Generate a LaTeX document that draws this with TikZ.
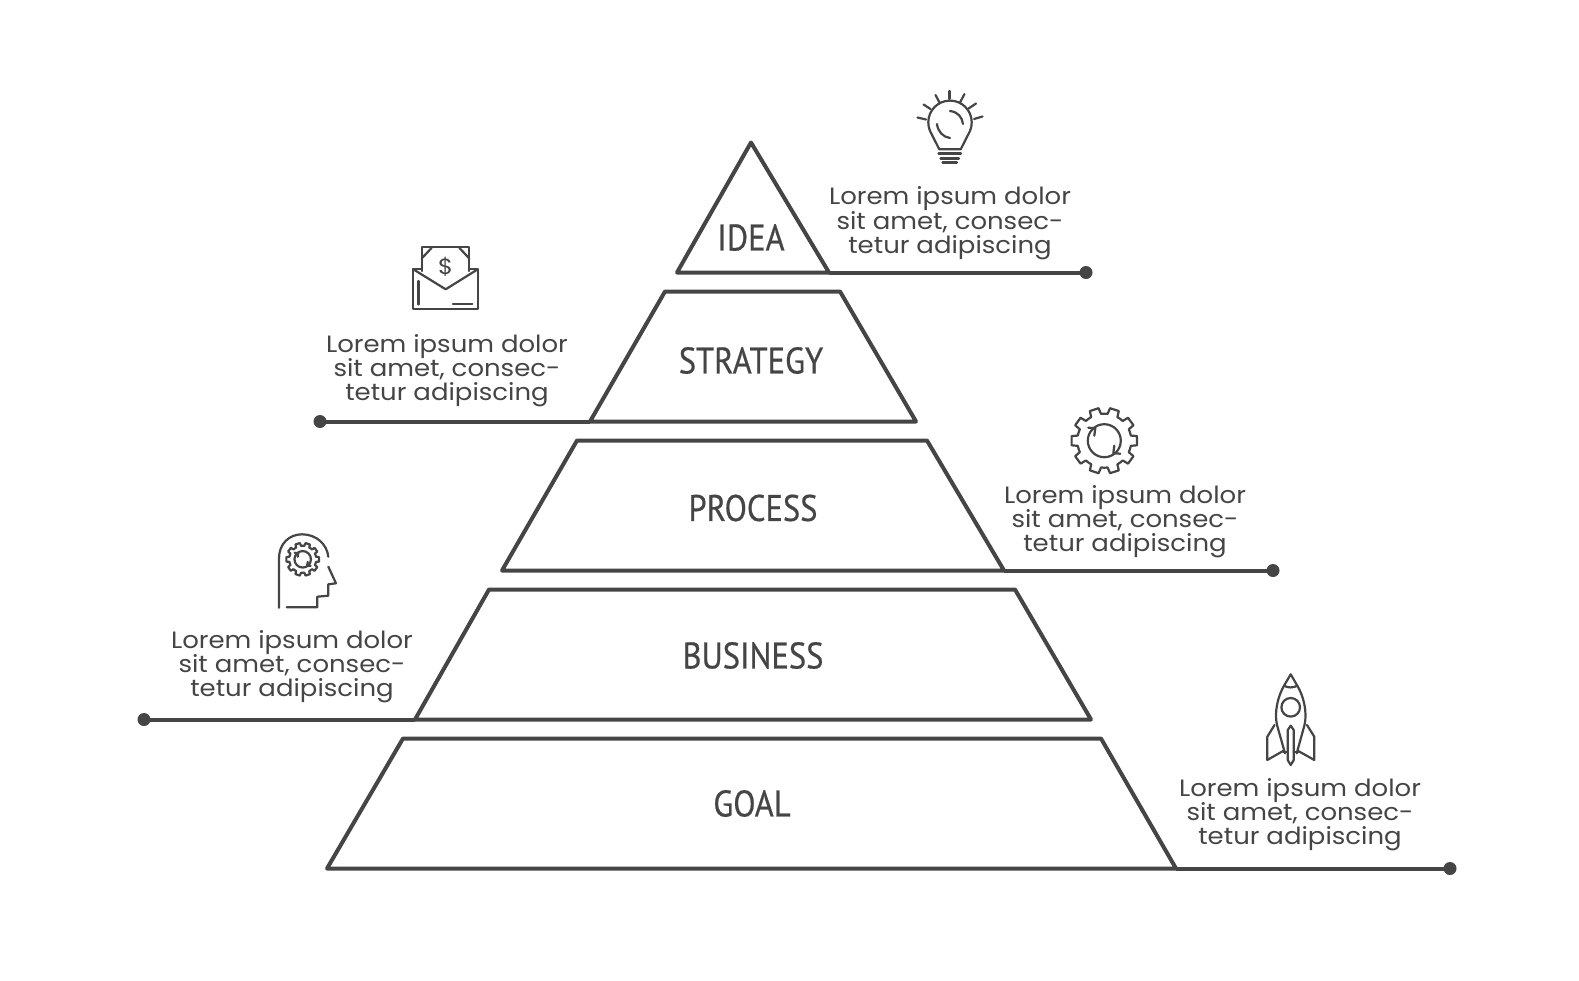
\documentclass[tikz,border=0pt]{standalone}
\usepackage{fontspec}
\newfontfamily\bodyfont[FakeStretch=1.1]{Poppins}
\newfontfamily\labelfont[FakeStretch=0.88,FakeBold=0.5]{PT Sans}
\definecolor{inkgray}{HTML}{454545}
\tikzset{
    tier/.style={draw=inkgray,line width=2pt,line join=round},
    leader/.style={draw=inkgray,line width=2pt},
    enddot/.style={circle,fill=inkgray,inner sep=0pt,outer sep=0pt,minimum size=6.5pt},
    icon/.style={draw=inkgray,line width=1.1pt,line join=round,line cap=round},
    tierlabel/.style={text=inkgray,font=\labelfont\fontsize{18.5}{20}\selectfont},
    blurb/.style={text=inkgray,align=center,inner sep=0pt,font=\bodyfont\fontsize{11.8}{12.15}\selectfont}
}
\newcommand{\cogicon}[2]{
    \begin{scope}[shift={#1},scale=#2]
        \draw [icon] (-18:27) \foreach \a in {0,36,...,324} { -- ({\a-11}:27) -- ({\a-8}:33) -- ({\a+8}:33) -- ({\a+11}:27) -- ({\a+18}:27) } -- cycle;
        \draw [icon] (0,0) circle (16.5);
        \draw [icon] (-16,-13) -- (-9,-12.5) -- (-10,-5);
        \draw [icon] (16,13) -- (9,12.5) -- (10,5);
    \end{scope}
}
\begin{document}
\begin{tikzpicture}[x=0.5pt,y=-0.5pt]
    \useasboundingbox [fill=white] (0,0) rectangle (1579,980);
    % pyramid
    \draw [tier] (677,272.5) -- (751,142.5) -- (829,272.5) coordinate (ideaend) -- cycle;
    \draw [tier] (665,291.5) -- (840,291.5) -- (916,421.5) -- (590,421.5) coordinate (strategyend) -- cycle;
    \draw [tier] (577,440.5) -- (927,440.5) -- (1004,570.5) coordinate (processend) -- (502,570.5) -- cycle;
    \draw [tier] (489,589.5) -- (1015,589.5) -- (1091,719.5) -- (415,719.5) coordinate (businessend) -- cycle;
    \draw [tier] (403,738.5) -- (1101,738.5) -- (1176,868.5) coordinate (goalend) -- (327,868.5) -- cycle;
    \node [tierlabel] (idea) at (751,237.5) {IDEA};
    \node [tierlabel] (strategy) at (751,360.5) {STRATEGY};
    \node [tierlabel] (process) at (753,508) {PROCESS};
    \node [tierlabel] (business) at (753,655.5) {BUSINESS};
    \node [tierlabel] (goal) at (752,803.5) {GOAL};
    % leaders
    \node [enddot] (ideadot) at (1086,272.5) {};
    \node [enddot] (strategydot) at (320,421.5) {};
    \node [enddot] (processdot) at (1273,570.5) {};
    \node [enddot] (businessdot) at (144,719.5) {};
    \node [enddot] (goaldot) at (1450,868.5) {};
    \draw [leader] (ideaend) -- (ideadot.center);
    \draw [leader] (strategyend) -- (strategydot.center);
    \draw [leader] (processend) -- (processdot.center);
    \draw [leader] (businessend) -- (businessdot.center);
    \draw [leader] (goalend) -- (goaldot.center);
    % text
    \node [blurb] (ideatext) at (950,223.5) {Lorem ipsum dolor\\sit amet, consec-\\tetur adipiscing};
    \node [blurb] (strategytext) at (447,370.5) {Lorem ipsum dolor\\sit amet, consec-\\tetur adipiscing};
    \node [blurb] (processtext) at (1125,521.5) {Lorem ipsum dolor\\sit amet, consec-\\tetur adipiscing};
    \node [blurb] (businesstext) at (292,666.5) {Lorem ipsum dolor\\sit amet, consec-\\tetur adipiscing};
    \node [blurb] (goaltext) at (1300,814.5) {Lorem ipsum dolor\\sit amet, consec-\\tetur adipiscing};
    % bulb
    \draw [icon] (939.3,149.3) -- (930,131) .. controls (928.8,128.3) and (928.3,125.4) .. (928.3,122.3) .. controls (928.3,110.3) and (938,100.6) .. (950,100.6) .. controls (962,100.6) and (971.7,110.3) .. (971.7,122.3) .. controls (971.7,125.4) and (971.2,128.3) .. (970,131) -- (960.7,149.3) -- cycle;
    \draw [icon] (950,111) .. controls (958,112) and (962,117) .. (963,124);
    \draw [icon] (937,124) .. controls (938,132) and (943,137) .. (950,138);
    \draw [icon] (938.5,153.5) -- (961,153.5);
    \draw [icon] (940.5,158.5) -- (959,158.5);
    \draw [icon] (942.5,162.5) -- (957,162.5);
    \draw [icon] (949.5,91) -- (949.5,99);
    \draw [icon] (935.5,95) -- (939.5,102.5);
    \draw [icon] (923.5,104.5) -- (930.5,109);
    \draw [icon] (917.5,117.5) -- (926,119.5);
    \draw [icon] (964.5,94) -- (960,102.5);
    \draw [icon] (976,103.5) -- (968.5,108.5);
    \draw [icon] (982.5,116.5) -- (974,119);
    % envelope
    \draw [icon] (421.7,271) -- (421.7,247.3) -- (469.3,247.3) -- (469.3,271);
    \draw [icon] (421.7,258.5) -- (431.5,248);
    \draw [icon] (459.5,248) -- (469.3,258.5);
    \draw [icon] (421.7,269.3) -- (413.3,269.3) -- (413.3,309.3) -- (477.7,309.3) -- (477.7,269.3) -- (469.3,269.3);
    \draw [icon] (413.3,269.3) -- (445.7,289.3) -- (477.7,269.3);
    \draw [icon] (418.5,281) -- (418.5,304.5);
    \draw [icon] (453,304) -- (472.3,304);
    \node [text=inkgray,inner sep=0pt,font=\bodyfont\fontsize{11}{12}\selectfont] (dollar) at (445.7,267) {\$};
    % cogs
    \cogicon{(1104.3,440.7)}{1}
    \cogicon{(302.7,559.3)}{0.5}
    % head
    \draw [icon] (279,607.7) -- (279,558.3) .. controls (279,544) and (289,534.3) .. (302,534.3) .. controls (316,534.3) and (327,544) .. (328.3,556.7);
    \draw [icon] (328.3,566.7) -- (336,583.3) -- (328.3,584.3) -- (328.3,595.7) -- (317.3,596.7) -- (317.3,607.3) -- (286.7,607.3);
    % rocket
    \draw [icon] (1285,753.3) -- (1277,725) .. controls (1274,712) and (1278,696) .. (1284,685.7) -- (1290.7,674.3) -- (1297.3,685.7) .. controls (1303.5,696) and (1307.5,712) .. (1304.5,725) -- (1296.7,753.3);
    \draw [icon] (1284,685.7) .. controls (1288,688) and (1293,688) .. (1297.3,685.7);
    \draw [icon] (1290.7,707.3) circle (9.3);
    \draw [icon] (1283.3,752.3) -- (1287.7,752.3);
    \draw [icon] (1293.7,752.3) -- (1298.3,752.3);
    \draw [icon] (1287.7,730) -- (1290.7,725.7) -- (1293.7,730) -- (1293.7,760) -- (1290.7,765) -- (1287.7,760) -- cycle;
    \draw [icon] (1274.5,725) -- (1267.3,736.7) -- (1267.3,760) -- (1283,751);
    \draw [icon] (1307,725) -- (1314.3,736.7) -- (1314.3,760) -- (1298.3,751);
\end{tikzpicture}
\end{document}
